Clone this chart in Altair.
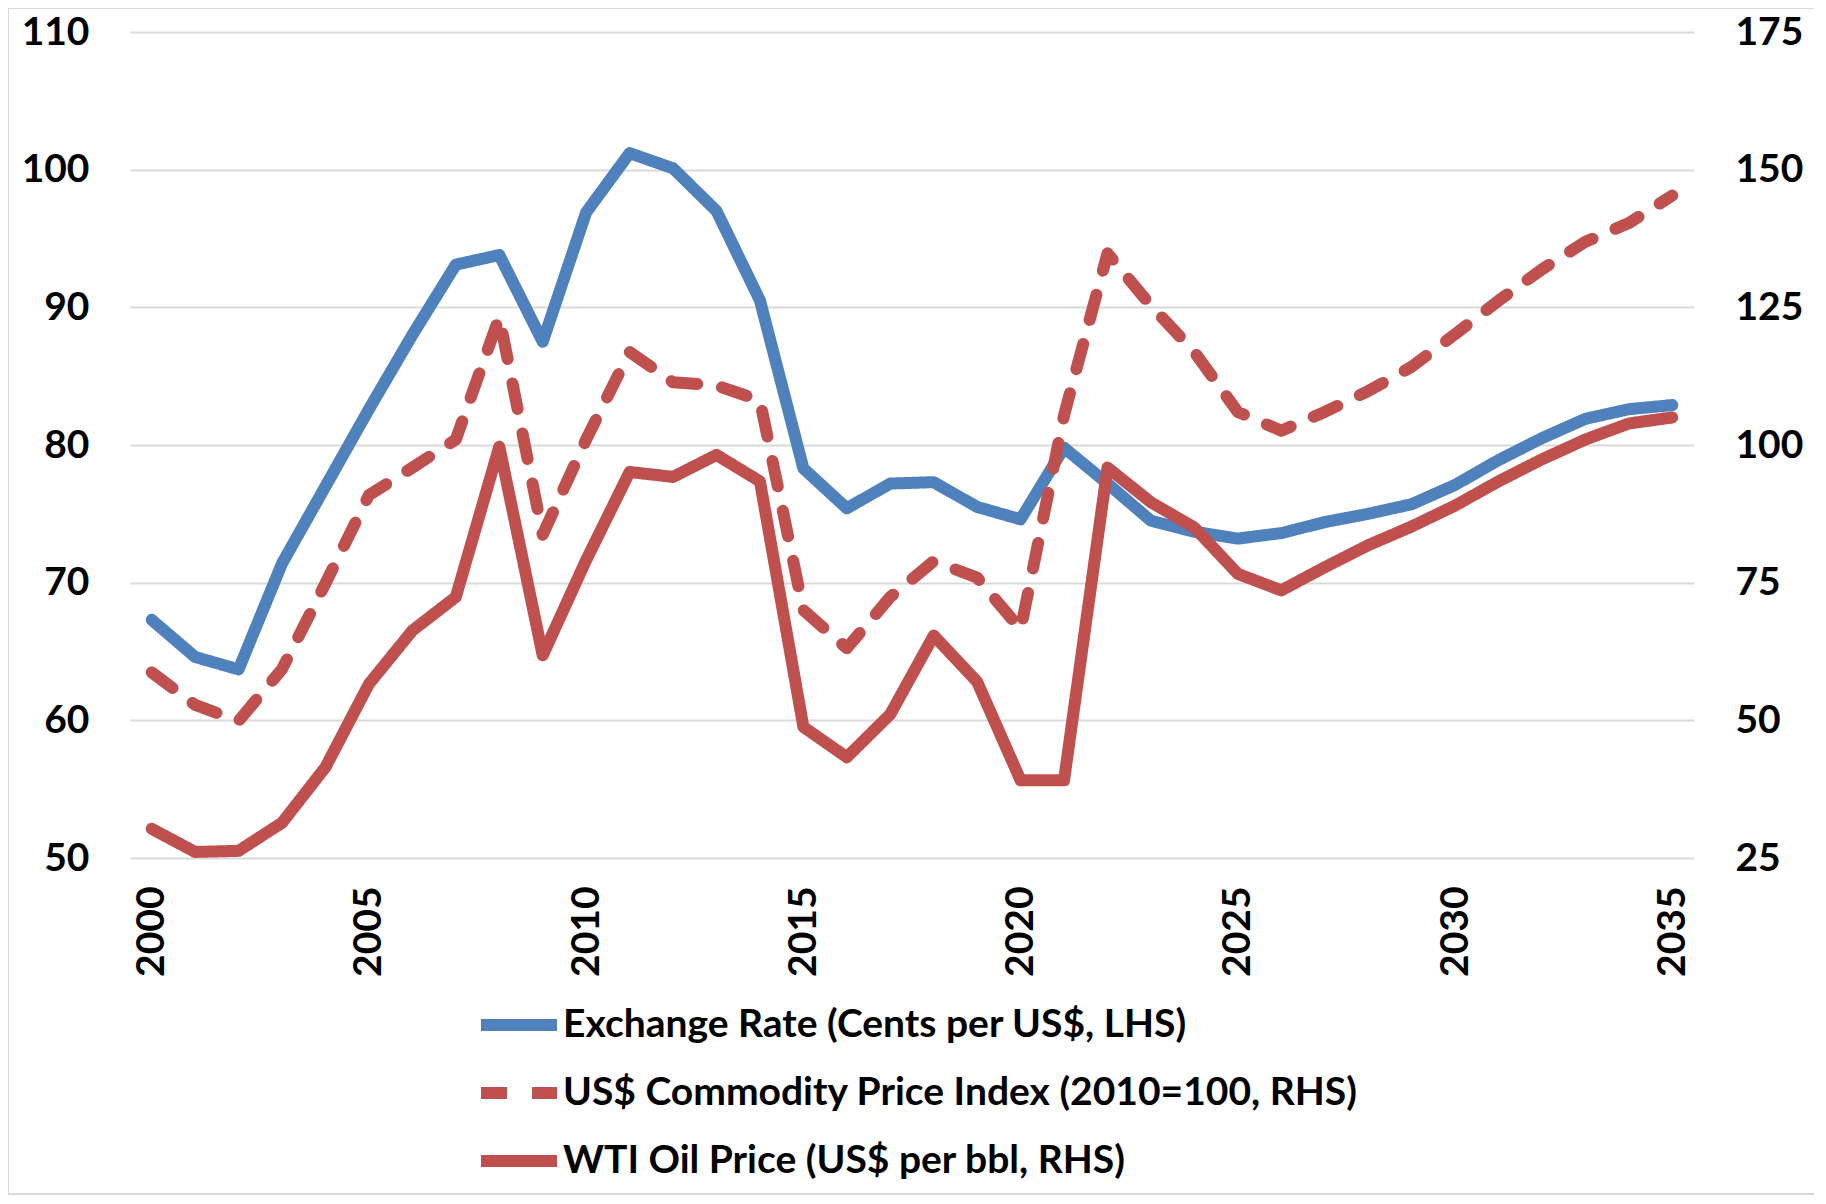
import altair as alt
import pandas as pd

years = list(range(2000, 2036))

exchange_rate = [67.3, 64.6, 63.7, 71.4, 77.0, 82.6, 88.0, 93.1, 93.8, 87.5,
                 96.9, 101.2, 100.1, 97.0, 90.5, 78.3, 75.4, 77.2, 77.3, 75.5,
                 74.6, 79.8, 77.2, 74.5, 73.7, 73.2, 73.6, 74.4, 75.0, 75.7,
                 77.1, 78.9, 80.5, 81.9, 82.6, 82.9]

commodity_index = [58.7, 52.8, 49.9, 59.3, 74.9, 90.9, 95.9, 101.0, 123.2, 83.7,
                   101.0, 116.9, 111.4, 110.8, 108.1, 70.0, 63.1, 72.4, 78.9, 75.9,
                   66.5, 105.4, 134.8, 125.3, 116.9, 106.0, 102.6, 106.0, 109.8, 114.2,
                   120.1, 126.2, 131.9, 136.9, 140.3, 145.3]

wti_oil = [30.3, 26.1, 26.3, 31.4, 41.5, 56.6, 66.3, 72.4, 99.7, 61.8,
           79.1, 95.1, 94.2, 98.2, 93.4, 48.8, 43.3, 51.1, 65.4, 57.0,
           39.1, 39.1, 95.9, 89.6, 85.0, 76.6, 73.6, 77.8, 81.8, 85.2,
           89.0, 93.4, 97.4, 101.0, 103.9, 105.0]

series_names = ["Exchange Rate (Cents per US$, LHS)",
                "US$ Commodity Price Index (2010=100, RHS)",
                "WTI Oil Price (US$ per bbl, RHS)"]
series_colors = ["#4F81BD", "#C0504D", "#C0504D"]
series_dashes = [[1, 0], [26, 25], [1, 0]]

x_ticks = [2000, 2005, 2010, 2015, 2020, 2025, 2030, 2035]
left_ticks = [50, 60, 70, 80, 90, 100, 110]
right_ticks = [25, 50, 75, 100, 125, 150, 175]

left_df = pd.DataFrame({"year": years, "value": exchange_rate, "series": series_names[0]})
right_df = pd.concat([
    pd.DataFrame({"year": years, "value": commodity_index, "series": series_names[1]}),
    pd.DataFrame({"year": years, "value": wti_oil, "series": series_names[2]}),
])

FONT = "Lato"

legend = alt.Legend(
    title=None, orient="none", legendX=345, legendY=949, direction="vertical",
    symbolType="stroke", symbolSize=5776, symbolStrokeWidth=12,
    labelFontSize=39, labelFont=FONT, labelFontWeight="bold", labelColor="black",
    labelOffset=0, rowPadding=0, padding=0, labelLimit=1400,
)

color = alt.Color("series:N", scale=alt.Scale(domain=series_names, range=series_colors), legend=legend)
dash = alt.StrokeDash("series:N", scale=alt.Scale(domain=series_names, range=series_dashes), legend=legend)

x_enc = alt.X("year:Q", scale=alt.Scale(domain=[1999.5, 2035.5], nice=False, zero=False),
              axis=alt.Axis(values=x_ticks, format="d", labelAngle=270, grid=False, ticks=False,
                            domain=False, labelPadding=28, labelFontSize=39, labelFont=FONT,
                            labelFontWeight="bold", labelColor="black", title=None))

line_kw = dict(strokeWidth=12, strokeCap="round", strokeJoin="round")

left = alt.Chart(left_df).mark_line(**line_kw).encode(
    x=x_enc,
    y=alt.Y("value:Q", scale=alt.Scale(domain=[50, 110], nice=False, zero=False),
            axis=alt.Axis(orient="left", values=left_ticks, grid=True, gridColor="#d9d9d9",
                          gridWidth=2, ticks=False, domain=False, labelPadding=41,
                          labelFontSize=39, labelFont=FONT, labelFontWeight="bold",
                          labelColor="black", title=None)),
    color=color, strokeDash=dash,
)

right = alt.Chart(right_df).mark_line(**line_kw).encode(
    x=x_enc,
    y=alt.Y("value:Q", scale=alt.Scale(domain=[25, 175], nice=False, zero=False),
            axis=alt.Axis(orient="right", values=right_ticks, grid=False, ticks=False,
                          domain=False, labelPadding=41, labelFontSize=39, labelFont=FONT,
                          labelFontWeight="bold", labelColor="black", title=None)),
    color=color, strokeDash=dash,
)

frame = alt.Chart(pd.DataFrame({"a": [0]})).mark_rect(
    filled=False, stroke="#d9d9d9", strokeWidth=2
).encode(x=alt.value(-122), x2=alt.value(1686), y=alt.value(-24), y2=alt.value(1162))

chart = alt.layer(frame, left, right).resolve_scale(y="independent").properties(
    width=1564, height=826,
    padding={"left": 122, "top": 24, "right": 120, "bottom": 337},
    autosize=alt.AutoSizeParams(type="none"),
).configure_view(strokeWidth=0)

chart.save("out.html", embed_options={"renderer": "svg", "actions": False})
